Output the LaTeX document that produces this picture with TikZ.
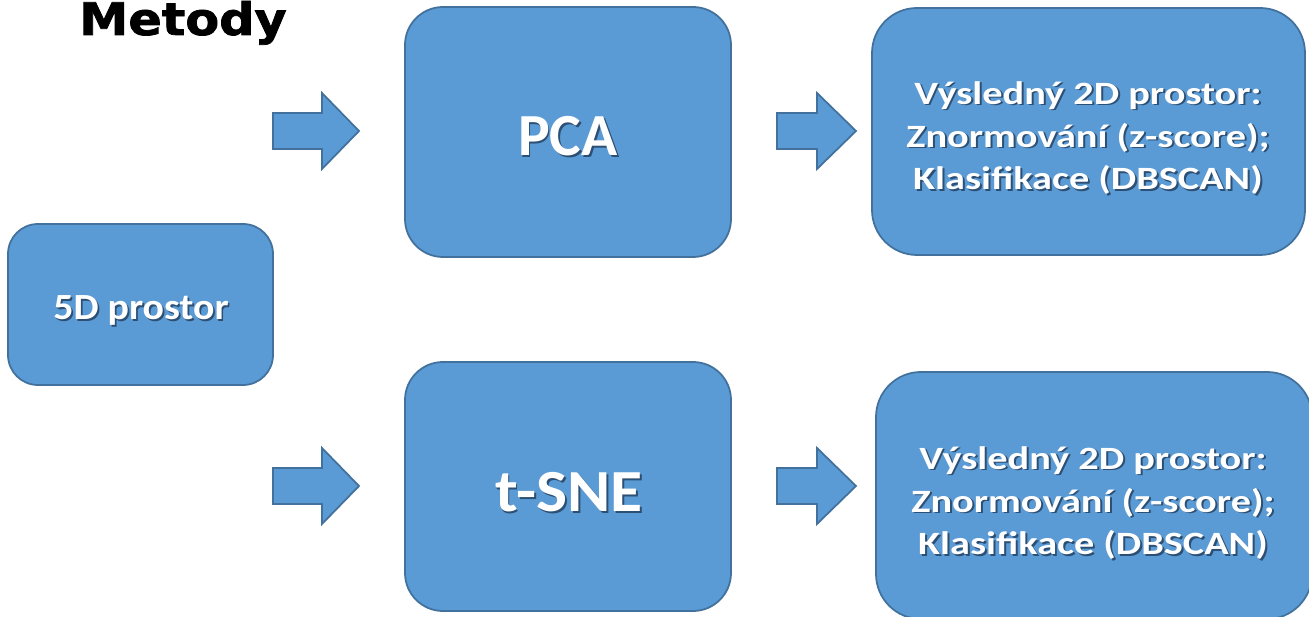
\documentclass[tikz,border=0pt]{standalone}
\usepackage{fontspec}
\setmainfont{Carlito}
\newfontfamily\titlefont{DejaVu Sans}[BoldFeatures={FakeBold=1.6}]
\usepackage{graphicx}
\definecolor{boxfill}{HTML}{5B9BD5}
\definecolor{boxline}{HTML}{41719C}
\definecolor{shadowc}{HTML}{2C4F73}
\newcommand\shtext[1]{\leavevmode\rlap{\hspace{0.9pt}\raisebox{-0.9pt}{\color{shadowc}#1}}#1}
\tikzset{
  box/.style={draw=boxline, fill=boxfill, line width=1pt, inner sep=0pt},
  blockarrow/.style={draw=boxline, fill=boxfill, line width=1pt, line join=miter},
  txt/.style={text=white, inner sep=0pt, font=\bfseries},
}
\begin{document}
\begin{tikzpicture}[x=0.02cm,y=-0.02cm]
\useasboundingbox (0,0) rectangle (1309,617);
\clip (0,0) rectangle (1309,617);

% title
\node[anchor=base west, inner sep=0pt, font=\titlefont\bfseries\fontsize{25.5}{30}\selectfont] (title) at (79,35) {\scalebox{1.1}[1]{Metody}};

% boxes
\node[box, rounded corners=0.6cm, minimum width=265*0.02cm, minimum height=161*0.02cm] (src) at (140.5,304.5) {};
\node[box, rounded corners=0.76cm, minimum width=326*0.02cm, minimum height=250*0.02cm] (pca) at (568,132) {};
\node[box, rounded corners=0.76cm, minimum width=326*0.02cm, minimum height=249*0.02cm] (tsne) at (568,486.5) {};
\node[box, rounded corners=0.9cm, minimum width=433*0.02cm, minimum height=247*0.02cm] (res1) at (1088.5,131.5) {};
\node[box, rounded corners=0.9cm, minimum width=436*0.02cm, minimum height=247*0.02cm] (res2) at (1094,495.5) {};

% texts
\node[txt, anchor=base, font=\bfseries\fontsize{21}{24}\selectfont] (srct) at (141,320) {\scalebox{1.08}[1]{\shtext{5D prostor}}};
\node[txt, anchor=base, font=\bfseries\fontsize{34}{40}\selectfont] (pcat) at (568,156) {\shtext{PCA}};
\node[txt, anchor=base, font=\bfseries\fontsize{34}{40}\selectfont] (tsnet) at (569,512) {\scalebox{1.1}[1]{\shtext{t-SNE}}};

\newcommand\restext{\scalebox{1.24}[1]{\begin{tabular}{@{}c@{}}\shtext{Výsledný 2D prostor:}\\ \shtext{Znormování (z-score);}\\ \shtext{Klasifikace (DBSCAN)}\end{tabular}}}
\node[txt, anchor=center, font=\bfseries\fontsize{18.5}{24.4}\selectfont] (res1t) at (1088,138.5) {\restext};
\node[txt, anchor=center, font=\bfseries\fontsize{18.5}{24.4}\selectfont] (res2t) at (1093,503.5) {\restext};

% block arrows
\draw[blockarrow] (273,113) -- (322,113) -- (322,93) -- (359,131) -- (322,169) -- (322,149) -- (273,149) -- cycle;
\draw[blockarrow] (777,113) -- (817,113) -- (817,93) -- (856,131) -- (817,169) -- (817,149) -- (777,149) -- cycle;
\draw[blockarrow] (273,468) -- (322,468) -- (322,448) -- (359,486) -- (322,524) -- (322,504) -- (273,504) -- cycle;
\draw[blockarrow] (777,468) -- (817,468) -- (817,448) -- (856,486) -- (817,524) -- (817,504) -- (777,504) -- cycle;
\end{tikzpicture}
\end{document}
